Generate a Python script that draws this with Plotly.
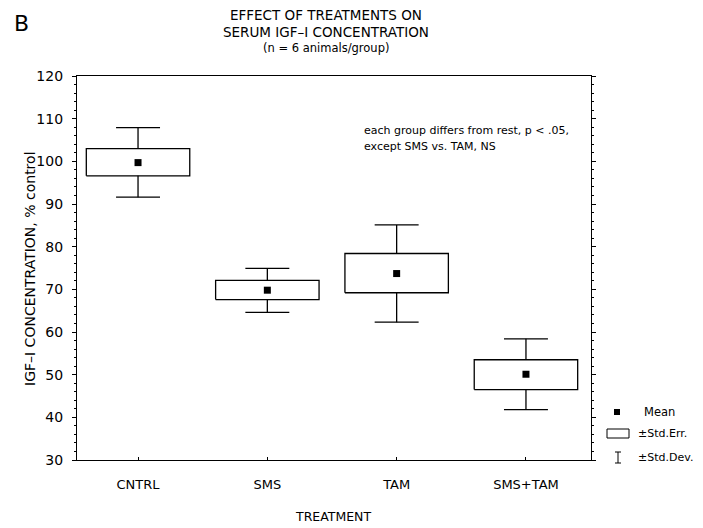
import plotly.graph_objects as go

categories = ["CNTRL", "SMS", "TAM", "SMS+TAM"]
means = [99.7, 69.8, 73.7, 50.1]
se_low = [96.6, 67.6, 69.2, 46.5]
se_high = [103.0, 72.1, 78.4, 53.5]
sd_low = [91.6, 64.6, 62.3, 41.8]
sd_high = [107.9, 74.9, 85.1, 58.4]
y_ticks = [30, 40, 50, 60, 70, 80, 90, 100, 110, 120]

FONT = "DejaVu Sans"
BOX_HALF = 0.4
CAP_HALF = 0.17
xs = list(range(len(categories)))

# page pixel geometry of the reference (page has an 8px body margin)
OFF = 8
L, R, T, B = 77, 591, 76, 460
W, H = 703, 528


def px(x):
    return (x - L) / (R - L)


def py(y):
    return (B - y) / (B - T)


# build box and whisker outlines from the data
bx, by = [], []
for i, x in enumerate(xs):
    lo, hi = se_low[i], se_high[i]
    bx += [x - BOX_HALF, x + BOX_HALF, x + BOX_HALF, x - BOX_HALF, x - BOX_HALF, None]
    by += [lo, lo, hi, hi, lo, None]
    bx += [x, x, None, x - CAP_HALF, x + CAP_HALF, None]
    by += [hi, sd_high[i], None, sd_high[i], sd_high[i], None]
    bx += [x, x, None, x - CAP_HALF, x + CAP_HALF, None]
    by += [lo, sd_low[i], None, sd_low[i], sd_low[i], None]

fig = go.Figure()
fig.add_trace(go.Scatter(
    x=bx, y=by, mode="lines", line=dict(color="black", width=1.3),
    showlegend=False, hoverinfo="skip",
))
fig.add_trace(go.Scatter(
    x=xs, y=means, mode="markers",
    marker=dict(symbol="square", size=7, color="black"),
    showlegend=False,
))

ann = []


def add_text(text, x, y, size, xanchor="center", angle=0):
    ann.append(dict(text=text, x=px(x), y=py(y), xref="paper", yref="paper",
                    showarrow=False, xanchor=xanchor, yanchor="middle", textangle=angle,
                    font=dict(family=FONT, size=size, color="black")))


add_text("EFFECT OF TREATMENTS ON", 326, 15, 13.5)
add_text("SERUM IGF\u2013I CONCENTRATION", 326, 32, 13.5)
add_text("(n = 6 animals/group)", 326, 48, 11.5)
add_text("B", 21, 24, 22)
add_text("TREATMENT", 333, 516, 12.5)
add_text("IGF\u2013I CONCENTRATION, % control", 30, 269, 14, angle=-90)
add_text("each group differs from rest, p < .05,", 362, 131, 11, xanchor="left")
add_text("except SMS vs. TAM, NS", 362, 146, 11, xanchor="left")
add_text("Mean", 642, 412, 11.5, xanchor="left")
add_text("\u00b1Std.Err.", 636, 433, 11, xanchor="left")
add_text("\u00b1Std.Dev.", 636, 457, 11, xanchor="left")

shapes = [
    dict(type="rect", xref="paper", yref="paper", x0=px(614), x1=px(620), y0=py(409), y1=py(415),
         fillcolor="black", line=dict(width=0)),
    dict(type="rect", xref="paper", yref="paper", x0=px(607), x1=px(629), y0=py(429), y1=py(438),
         line=dict(color="black", width=1)),
    dict(type="line", xref="paper", yref="paper", x0=px(618), x1=px(618), y0=py(452), y1=py(463),
         line=dict(color="black", width=1)),
    dict(type="line", xref="paper", yref="paper", x0=px(615), x1=px(621), y0=py(452), y1=py(452),
         line=dict(color="black", width=1)),
    dict(type="line", xref="paper", yref="paper", x0=px(615), x1=px(621), y0=py(463), y1=py(463),
         line=dict(color="black", width=1)),
]

fig.update_layout(
    width=W - OFF, height=H - OFF,
    margin=dict(l=L - OFF, r=W - R, t=T - OFF, b=H - B, pad=0, autoexpand=False),
    paper_bgcolor="white", plot_bgcolor="white",
    annotations=ann, shapes=shapes,
    font=dict(family=FONT, color="black"),
    showlegend=False,
)
fig.update_xaxes(
    range=[-0.472, 3.503], tickmode="array", tickvals=xs, ticktext=categories,
    showgrid=False, zeroline=False, showline=True, linecolor="black", linewidth=1.3,
    mirror=True, ticks="inside", ticklen=3, tickcolor="black",
    ticklabelstandoff=12, tickfont=dict(family=FONT, size=13, color="black"),
)
fig.update_yaxes(
    range=[30, 120], tickmode="array", tickvals=y_ticks,
    showgrid=False, zeroline=False, showline=True, linecolor="black", linewidth=1.3,
    mirror="allticks", ticks="outside", ticklen=4, tickcolor="black",
    minor=dict(dtick=2, ticks="outside", ticklen=2, tickcolor="black"),
    ticklabelstandoff=6, tickfont=dict(family=FONT, size=14, color="black"),
)

fig.write_html("out.html")
